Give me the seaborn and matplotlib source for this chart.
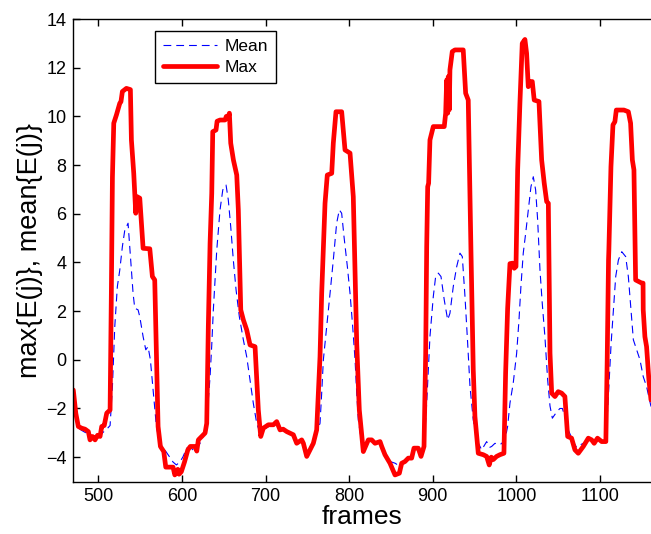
import matplotlib
matplotlib.use("Agg")
import matplotlib.pyplot as plt
import seaborn as sns
import pandas as pd

# ---- data ----
max_frames = [470, 473, 476, 480, 484, 488, 490, 493, 496, 499, 502, 504, 507, 510, 514,
              515.5, 516.8, 518.4, 521.6, 525.6, 527, 528.7, 533.5, 538.3, 539.5, 542.3,
              544.7, 546.3, 549.5, 553.5, 561.5, 564.6, 567.4, 571.4, 574.2, 578.2, 580.6,
              589.3, 591.4, 595, 596.5, 599.2, 603, 607, 610, 615.6, 617.7, 619.6, 623.6,
              627.6, 629.6, 631.5, 633.6, 635.6, 636.8, 640.7, 642, 645.5, 651.5, 653, 655,
              656.7, 658.3, 661.5, 665.5, 667.4, 670.3, 673.4, 677.4, 681.4, 687.4, 691.3,
              694.2, 697.3, 703.3, 709.3, 713.3, 717.3, 721, 725.3, 729, 733.2, 737.2, 743.2,
              745.2, 749.2, 753.1, 757.1, 761.1, 763.1, 765.1, 767.1, 771.1, 773.8, 779.1,
              781, 784.2, 791, 795, 801, 804.9, 809, 812.1, 816.9, 822.9, 826.9, 830.9,
              836.9, 838.9, 842.8, 848.8, 854.8, 860, 862.8, 866.7, 870.7, 874.7, 877.5,
              882.6, 885.9, 889.5, 891.5, 892.7, 893.9, 895, 896.6, 900.6, 913.7, 915.4,
              916.6, 917.8, 918.5, 919.7, 920.5, 923.3, 926.5, 936.4, 939.3, 942.4, 945.7,
              948.4, 950.4, 954.4, 960.4, 964.4, 967.5, 970, 972.3, 976.3, 980.3, 985.1,
              987.1, 989.5, 992.3, 995.5, 997.4, 999.5, 1001.5, 1004.2, 1007, 1010.2,
              1012.2, 1014.2, 1016.2, 1019, 1021.3, 1027, 1030.2, 1033.3, 1036.2, 1038.2,
              1040.2, 1042.2, 1046.1, 1050, 1054.1, 1058, 1061.3, 1066, 1070, 1074, 1080,
              1086, 1090, 1093, 1097, 1102, 1107, 1108.6, 1110.2, 1110.6, 1113.1, 1115.5,
              1117.8, 1119.5, 1128.6, 1133.9, 1136.6, 1138.7, 1140.6, 1142.6, 1149.9,
              1151.5, 1151.7, 1153.7, 1155.7, 1158.5, 1161]
max_values = [-1.24, -2.2, -2.74, -2.81, -2.85, -2.95, -3.29, -3.15, -3.29, -3.1, -3.15, -2.74,
              -2.7, -2.19, -2.06, 2.7, 7.5, 9.72, 10.06, 10.54, 10.6, 11.02, 11.15, 11.1, 9.03,
              7.66, 6.02, 6.70, 6.64, 4.58, 4.56, 3.42, 3.28, -2.74, -3.56, -3.77, -4.41, -4.41,
              -4.73, -4.5, -4.7, -4.6, -4.2, -3.7, -3.56, -3.56, -3.75, -3.29, -3.15, -3.01,
              -2.61, 1.36, 4.79, 6.84, 9.37, 9.44, 9.8, 9.85, 9.85, 10.0, 9.95, 10.13, 8.90,
              8.21, 7.59, 6.16, 2.05, 1.64, 1.23, 0.61, 0.54, -2.06, -3.15, -2.81, -2.67, -2.67,
              -2.54, -2.88, -2.85, -2.95, -3.01, -3.08, -3.43, -3.29, -3.43, -3.97, -3.70, -3.43,
              -2.88, -1.37, 0.13, 2.73, 6.43, 7.59, 7.66, 8.90, 10.19, 10.19, 8.62, 8.49, 6.70,
              0.68, -2.06, -3.77, -3.29, -3.29, -3.43, -3.36, -3.56, -3.90, -4.25, -4.73, -4.66,
              -4.25, -4.18, -4.04, -4.04, -3.63, -3.63, -3.97, -3.56, 0.27, 4.65, 7.11, 7.25,
              9.03, 9.58, 9.58, 10.13, 11.49, 10.13, 11.63, 10.27, 11.91, 12.66, 12.73, 12.73,
              10.95, 10.67, 4.38, -0.41, -2.33, -3.84, -3.90, -3.97, -4.32, -4.0, -4.1, -3.97,
              -3.90, -3.84, -0.55, 2.1, 3.95, 3.97, 3.76, 3.83, 7.80, 10.54, 13.0, 13.16, 12.59,
              11.22, 11.43, 11.43, 10.67, 10.61, 8.21, 7.25, 6.50, 6.43, 0.27, -1.37, -1.51,
              -1.31, -1.37, -1.51, -3.15, -3.22, -3.7, -3.84, -3.56, -3.22, -3.29, -3.43, -3.22,
              -3.36, -3.36, 0.0, 4.1, 4.51, 7.93, 9.65, 9.78, 10.26, 10.26, 10.19, 9.72, 8.21,
              7.80, 3.28, 3.15, 3.15, 2.05, 0.95, 0.54, -0.83, -1.65]

mean_frames = [470, 473, 476, 480, 485, 490, 495, 500, 505, 510, 514, 516.8, 519.6, 522.7,
               525.6, 528.7, 531.6, 535.5, 537.5, 539.5, 541.5, 543.5, 547.5, 549.5, 553.5,
               556.7, 559.4, 562.2, 565.4, 569.4, 573.4, 579.4, 585.4, 589.3, 593.3, 597.4,
               601, 605.6, 610, 615.6, 621.6, 626, 629, 631.5, 633.6, 635.6, 637.5, 641.6,
               645.5, 648.8, 652.7, 655.4, 658.3, 661.4, 664.7, 668.6, 673.4, 677.4, 681.4,
               685.3, 689.4, 693.4, 697, 700.3, 706, 713, 717, 725, 733, 737, 743, 749, 753,
               757, 761, 765.1, 767.1, 769.1, 773.1, 777.1, 781, 785, 788.2, 791, 793.8,
               797.8, 801, 804.2, 807, 809, 810.9, 815, 817, 823, 827, 831, 837, 843, 849,
               855, 861, 866, 871, 875, 878, 883, 886, 889.8, 892.7, 896.6, 900.6, 903.4,
               906.6, 909.8, 913.7, 917.8, 920.5, 924.5, 928.6, 932.5, 935.3, 938.5, 941.7,
               944.5, 948.4, 952.5, 958.5, 962, 964.4, 968, 970.4, 974.4, 978.3, 982, 986.3,
               989.5, 992.3, 996.2, 1000.3, 1003.1, 1005.4, 1008.2, 1011.1, 1014.2, 1017.4,
               1020.2, 1023, 1025.4, 1028.2, 1030.9, 1034.1, 1037.4, 1040.2, 1043, 1047,
               1052, 1055, 1058, 1062, 1068, 1072, 1076, 1082, 1086, 1090, 1094, 1098, 1102,
               1106, 1108, 1110.2, 1113.3, 1116.1, 1118.8, 1122, 1126, 1130.7, 1133.9,
               1137.1, 1139.9, 1143.9, 1147.8, 1151.7, 1155.7, 1161]
mean_values = [-1.3, -2.3, -2.8, -2.9, -3.0, -3.3, -3.2, -3.2, -3.0, -2.85, -2.7, -1.10, 1.36,
               3.01, 3.69, 4.65, 5.33, 5.61, 4.65, 3.69, 2.73, 2.12, 2.05, 1.77, 0.95, 0.41,
               0.54, 0.0, -1.24, -2.74, -3.43, -3.70, -4.0, -4.2, -4.32, -4.2, -4.0, -3.63,
               -3.6, -3.77, -3.43, -3.1, -2.9, -1.65, -0.69, 0.6, 2.05, 4.51, 6.16, 6.98, 7.18,
               6.57, 5.47, 4.10, 2.87, 1.77, 0.82, 0.13, -0.83, -1.78, -2.61, -3.01, -2.85,
               -2.81, -2.7, -2.54, -2.88, -2.95, -3.1, -3.4, -3.3, -3.6, -3.6, -3.4, -3.0,
               -2.61, -1.37, 0.0, 1.36, 2.73, 4.10, 5.61, 6.16, 6.02, 5.06, 3.83, 2.73, 1.36,
               0.0, -1.37, -2.47, -3.43, -3.6, -3.3, -3.3, -3.4, -3.4, -3.8, -4.18, -4.25,
               -4.39, -4.2, -4.0, -4.0, -3.65, -3.65, -3.9, -3.43, -1.78, 0.95, 2.60, 3.42,
               3.56, 3.42, 2.46, 1.64, 1.91, 3.01, 3.83, 4.38, 4.24, 2.60, 0.68, -1.10, -2.47,
               -3.29, -3.70, -3.5, -3.36, -3.6, -3.56, -3.43, -3.49, -3.45, -3.29, -2.74, -1.78,
               -0.96, 0.27, 1.64, 3.01, 4.38, 5.20, 6.16, 7.11, 7.52, 6.98, 5.75, 3.69, 2.33,
               0.95, -0.83, -1.9, -2.4, -2.2, -2.0, -2.0, -2.35, -2.88, -3.36, -3.6, -3.5,
               -3.4, -3.25, -3.3, -3.4, -3.3, -3.35, -3.3, -2.74, -1.37, 0.68, 2.05, 3.42,
               4.10, 4.44, 4.24, 3.42, 2.05, 0.82, 0.41, 0.0, -0.69, -1.10, -1.92]

series_names = ["Mean", "Max"]
x_ticks = [500, 600, 700, 800, 900, 1000, 1100]
y_ticks = [-4, -2, 0, 2, 4, 6, 8, 10, 12, 14]
x_label = "frames"
y_label = "max{E(j)}, mean{E(j)}"

# ---- plotting ----
sns.set_style("white")
plt.rcParams["font.family"] = ["Liberation Sans", "DejaVu Sans"]
plt.rcParams["text.color"] = "black"
plt.rcParams["axes.labelcolor"] = "black"
plt.rcParams["xtick.color"] = "black"
plt.rcParams["ytick.color"] = "black"

df_mean = pd.DataFrame({"frame": mean_frames, "value": mean_values})
df_max = pd.DataFrame({"frame": max_frames, "value": max_values})

fig = plt.figure(figsize=(6.51, 5.34), dpi=100)
ax = fig.add_axes([73.3 / 651, 1 - 481.5 / 534, (651 - 73.3) / 651, (481.5 - 19) / 534])

sns.lineplot(data=df_mean, x="frame", y="value", ax=ax, color=(0, 0, 1), lw=0.8,
             linestyle=(0, (7, 4.5)), sort=False, estimator=None, label=series_names[0])
sns.lineplot(data=df_max, x="frame", y="value", ax=ax, color=(1, 0, 0), lw=3.4,
             sort=False, estimator=None, label=series_names[1],
             solid_joinstyle="round", solid_capstyle="round")

ax.set_xlim(470, 1161)
ax.set_ylim(-5, 14)
ax.set_xticks(x_ticks)
ax.set_yticks(y_ticks)
ax.tick_params(direction="in", length=5, width=1, colors="black", labelsize=13,
               top=True, bottom=True, left=True, right=False)
ax.tick_params(axis="x", pad=5)
ax.tick_params(axis="y", pad=5)
for s in ["left", "top", "bottom"]:
    ax.spines[s].set_color("black")
    ax.spines[s].set_linewidth(1.0)
ax.spines["right"].set_visible(False)

ax.set_xlabel(x_label, fontsize=19, labelpad=0, color="black")
ax.set_ylabel(y_label, fontsize=19.5, labelpad=2, color="black")

leg = ax.legend(loc="upper left", bbox_to_anchor=(0.142, 0.974), borderaxespad=0,
                fontsize=12.5, frameon=True, fancybox=False, edgecolor="black",
                framealpha=1, handlelength=3.1, handletextpad=0.45, labelspacing=0.35,
                borderpad=0.45)
leg.get_frame().set_linewidth(1.0)
for t in leg.get_texts():
    t.set_color("black")

fig.savefig("out.png", dpi=100)
